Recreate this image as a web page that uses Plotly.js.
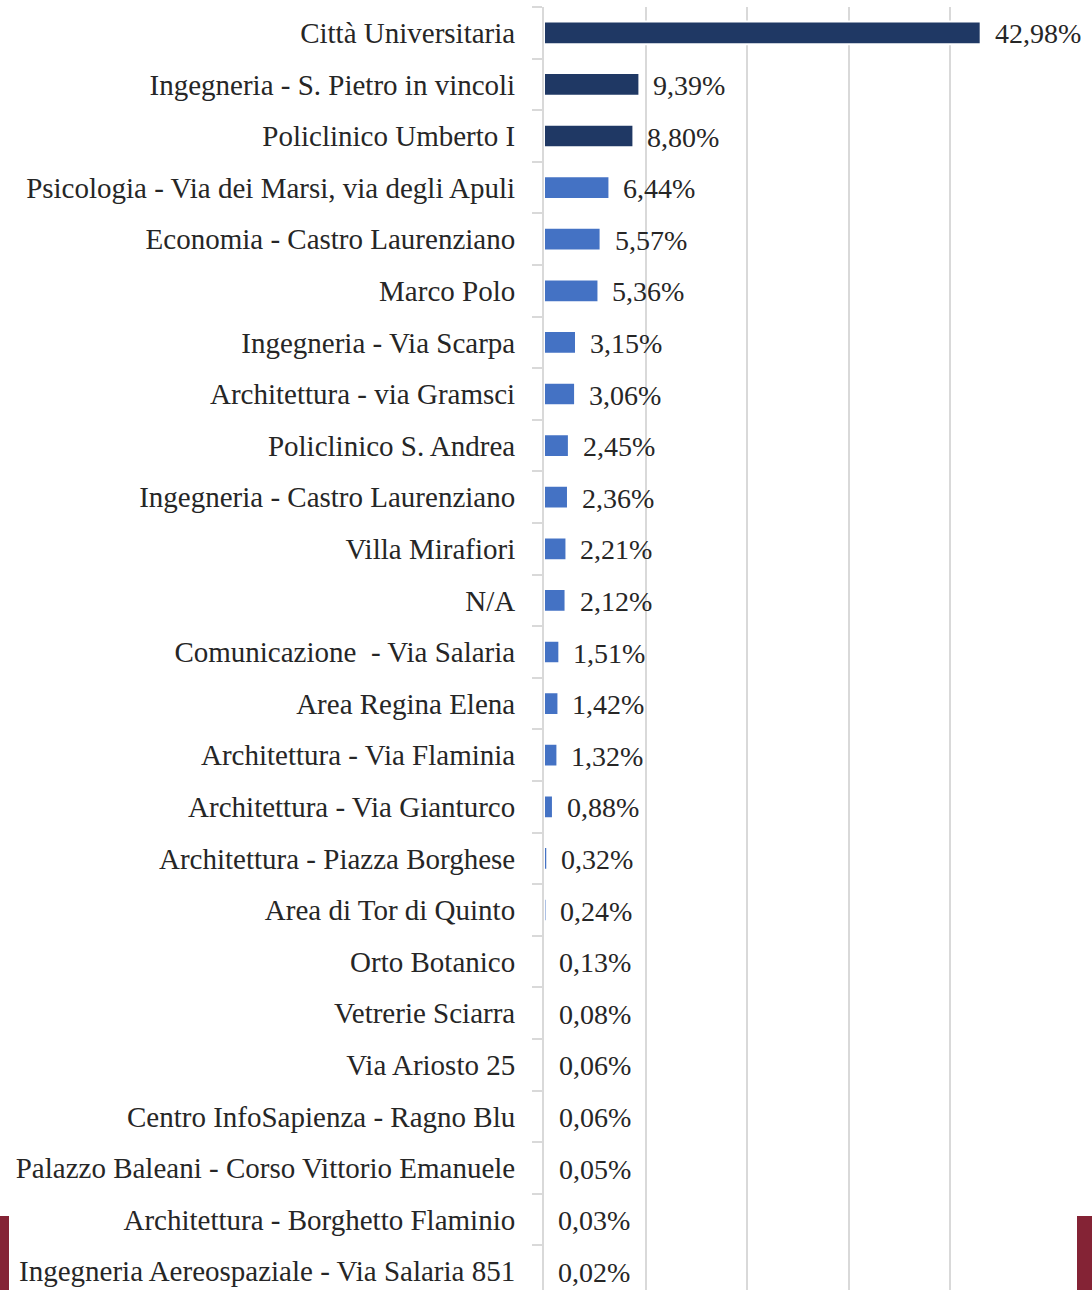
<!DOCTYPE html>
<html>
<head>
<meta charset="utf-8">
<script src="https://cdn.plot.ly/plotly-3.0.1.min.js"></script>
<style>
  html, body { margin: 0; padding: 0; background: #ffffff; }
  #chart { width: 1092px; height: 1290px; position: relative; }
  .deco { position: absolute; background: #842335; z-index: 10; }
</style>
</head>
<body>
<div id="chart"></div>
<div class="deco" style="left:0;top:1216px;width:9px;height:74px;"></div>
<div class="deco" style="left:1077px;top:1216px;width:15px;height:74px;"></div>
<script>
const categories = [
  "Città Universitaria",
  "Ingegneria - S. Pietro in vincoli",
  "Policlinico Umberto I",
  "Psicologia - Via dei Marsi, via degli Apuli",
  "Economia - Castro Laurenziano",
  "Marco Polo",
  "Ingegneria - Via Scarpa",
  "Architettura - via Gramsci",
  "Policlinico S. Andrea",
  "Ingegneria - Castro Laurenziano",
  "Villa Mirafiori",
  "N/A",
  "Comunicazione\u00a0 - Via Salaria",
  "Area Regina Elena",
  "Architettura - Via Flaminia",
  "Architettura - Via Gianturco",
  "Architettura - Piazza Borghese",
  "Area di Tor di Quinto",
  "Orto Botanico",
  "Vetrerie Sciarra",
  "Via Ariosto 25",
  "Centro InfoSapienza - Ragno Blu",
  "Palazzo Baleani - Corso Vittorio Emanuele",
  "Architettura - Borghetto Flaminio",
  "Ingegneria Aereospaziale - Via Salaria 851"
];
const values = [42.98, 9.39, 8.80, 6.44, 5.57, 5.36, 3.15, 3.06, 2.45, 2.36, 2.21, 2.12,
  1.51, 1.42, 1.32, 0.88, 0.32, 0.24, 0.13, 0.08, 0.06, 0.06, 0.05, 0.03, 0.02];
const highlightCount = 3;

const labels = values.map(v => v.toFixed(2).replace('.', ',') + '%');
const colors = values.map((v, i) => i < highlightCount ? '#1f3864' : '#4472c4');

const fontFamily = '"Liberation Serif", "Times New Roman", serif';
const textColor = '#262626';
const gridColor = '#d9d9d9';

const trace = {
  type: 'bar',
  orientation: 'h',
  y: categories,
  x: values,
  width: 0.44,
  marker: { color: colors, line: { color: '#ffffff', width: 2 } },
  hoverinfo: 'none'
};

const annotations = values.map((v, i) => ({
  x: v, y: categories[i], xref: 'x', yref: 'y',
  text: labels[i], showarrow: false,
  xanchor: 'left', yanchor: 'middle', xshift: 12, yshift: -1,
  font: { family: fontFamily, size: 28, color: textColor }
}));

const bandPx = 51.6;
const plotTop = 7;
const plotH = 1290 - plotTop;
const nBands = plotH / bandPx;

const layout = {
  width: 1092, height: 1290,
  margin: { l: 544, r: 40, t: plotTop, b: 0, pad: 0 },
  paper_bgcolor: '#ffffff', plot_bgcolor: '#ffffff',
  showlegend: false,
  xaxis: {
    range: [0, 50], dtick: 10, tick0: 0,
    showgrid: true, gridcolor: gridColor, gridwidth: 2,
    zeroline: false, showticklabels: false, ticks: '',
    showline: false, fixedrange: true
  },
  yaxis: {
    type: 'category',
    range: [-0.5 + nBands, -0.5],
    showline: true, linecolor: gridColor, linewidth: 2,
    ticks: 'outside', tickson: 'boundaries', ticklen: 10, tickwidth: 2, tickcolor: gridColor,
    ticklabelstandoff: 21,
    showgrid: false, zeroline: false,
    tickfont: { family: fontFamily, size: 29, color: textColor },
    fixedrange: true, automargin: false
  },
  annotations: annotations
};

Plotly.newPlot('chart', [trace], layout, { staticPlot: true, displayModeBar: false });
</script>
</body>
</html>
